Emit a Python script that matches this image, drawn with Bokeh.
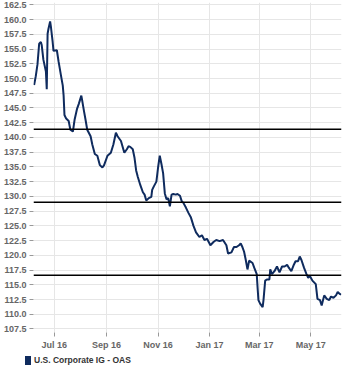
import pandas as pd
from bokeh.plotting import figure
from bokeh.layouts import column
from bokeh.models import (Span, Div, FixedTicker,
                          NumeralTickFormatter, Range1d, ColumnDataSource)
from bokeh.embed import file_html
from bokeh.resources import INLINE

series_name = "U.S. Corporate IG - OAS"

dates = [
    "2016-06-07", "2016-06-09", "2016-06-11", "2016-06-13", "2016-06-15", "2016-06-16",
    "2016-06-18", "2016-06-21", "2016-06-22", "2016-06-23", "2016-06-24", "2016-06-26",
    "2016-06-27", "2016-06-29", "2016-06-30", "2016-07-04", "2016-07-06", "2016-07-09",
    "2016-07-11", "2016-07-12", "2016-07-13", "2016-07-15", "2016-07-18", "2016-07-20",
    "2016-07-23", "2016-07-25", "2016-07-28", "2016-07-30", "2016-08-02", "2016-08-03",
    "2016-08-05", "2016-08-07", "2016-08-09", "2016-08-13", "2016-08-15", "2016-08-18",
    "2016-08-21", "2016-08-24", "2016-08-27", "2016-08-29", "2016-09-02", "2016-09-06",
    "2016-09-09", "2016-09-12", "2016-09-14", "2016-09-18", "2016-09-22", "2016-09-25",
    "2016-09-27", "2016-09-29", "2016-10-02", "2016-10-04", "2016-10-06", "2016-10-08",
    "2016-10-11", "2016-10-14", "2016-10-16", "2016-10-18", "2016-10-21", "2016-10-24",
    "2016-10-25", "2016-10-27", "2016-10-30", "2016-11-01", "2016-11-03", "2016-11-05",
    "2016-11-07", "2016-11-09", "2016-11-11", "2016-11-13", "2016-11-15", "2016-11-17",
    "2016-11-19", "2016-11-22", "2016-11-24", "2016-11-27", "2016-11-29", "2016-12-01",
    "2016-12-04", "2016-12-07", "2016-12-10", "2016-12-13", "2016-12-16", "2016-12-20",
    "2016-12-23", "2016-12-26", "2016-12-29", "2017-01-01", "2017-01-02", "2017-01-06",
    "2017-01-09", "2017-01-13", "2017-01-17", "2017-01-21", "2017-01-23", "2017-01-27",
    "2017-01-30", "2017-02-02", "2017-02-05", "2017-02-07", "2017-02-09", "2017-02-11",
    "2017-02-13", "2017-02-15", "2017-02-17", "2017-02-21", "2017-02-23", "2017-02-26",
    "2017-02-27", "2017-02-28", "2017-03-02", "2017-03-05", "2017-03-06", "2017-03-08",
    "2017-03-10", "2017-03-13", "2017-03-14", "2017-03-16", "2017-03-19", "2017-03-22",
    "2017-03-25", "2017-03-28", "2017-03-31", "2017-04-03", "2017-04-05", "2017-04-08",
    "2017-04-11", "2017-04-13", "2017-04-16", "2017-04-18", "2017-04-20", "2017-04-23",
    "2017-04-26", "2017-04-28", "2017-04-30", "2017-05-03", "2017-05-07", "2017-05-09",
    "2017-05-12", "2017-05-14", "2017-05-17", "2017-05-20", "2017-05-23", "2017-05-25",
    "2017-05-28", "2017-05-31", "2017-06-02", "2017-06-04", "2017-06-06",
]

oas = [
    148.9, 150.4, 152.4, 155.9, 156.2, 155.7,
    153.2, 151.2, 148.2, 157.6, 158.4, 159.7,
    158.7, 156.2, 154.7, 154.8, 152.9, 150.4,
    148.8, 147.1, 143.8, 143.2, 142.8, 141.3,
    141.0, 143.0, 144.9, 145.7, 147.1, 146.3,
    144.6, 143.0, 141.3, 140.2, 138.8, 137.2,
    136.9, 135.3, 134.9, 135.3, 136.9, 137.4,
    138.8, 140.8, 140.2, 139.4, 137.4, 138.0,
    138.5, 138.4, 138.0, 136.6, 134.4, 133.3,
    131.9, 130.7, 130.3, 129.3, 129.7, 129.9,
    131.1, 131.7, 132.5, 134.9, 136.9, 135.5,
    133.9, 130.5, 129.5, 129.7, 128.3, 130.3,
    130.4, 130.3, 130.4, 130.1, 129.2, 128.9,
    128.1, 127.2, 126.4, 125.0, 123.9, 123.1,
    123.4, 122.6, 122.8, 122.0, 121.7, 122.3,
    122.6, 122.4, 122.6, 121.7, 120.3, 120.5,
    121.4, 121.4, 121.7, 122.0, 121.4, 120.6,
    119.2, 117.6, 119.1, 118.7, 117.9, 116.8,
    114.5, 112.4, 111.8, 111.2, 112.4, 115.7,
    115.9, 115.9, 117.6, 116.8, 117.3, 118.1,
    117.1, 118.1, 118.1, 118.4, 117.9, 117.3,
    118.4, 119.0, 119.0, 119.8, 119.2, 117.9,
    116.8, 116.2, 116.5, 115.7, 115.1, 112.6,
    112.4, 111.5, 113.2, 112.6, 112.4, 113.0,
    112.8, 113.2, 113.8, 113.5, 113.3,
]

# mean and +/- one standard deviation reference lines
levels = [141.4, 129.0, 116.6]

x_tick_dates = ["2016-07-01", "2016-09-01", "2016-11-01", "2017-01-01", "2017-03-01", "2017-05-01"]
x_tick_labels = ["Jul 16", "Sep 16", "Nov 16", "Jan 17", "Mar 17", "May 17"]
y_ticks = [107.5, 110.0, 112.5, 115.0, 117.5, 120.0, 122.5, 125.0, 127.5, 130.0, 132.5, 135.0,
           137.5, 140.0, 142.5, 145.0, 147.5, 150.0, 152.5, 155.0, 157.5, 160.0, 162.5]

NAVY = "#0f2b5e"
FONT = "Liberation Sans"

src = ColumnDataSource(dict(date=pd.to_datetime(dates), oas=oas))

p = figure(width=348, height=352, output_backend="svg", toolbar_location=None,
           x_axis_type="datetime",
           x_range=Range1d(pd.Timestamp("2016-06-06 07:00"), pd.Timestamp("2017-06-06 12:00")),
           y_range=Range1d(106.9, 162.9),
           min_border_left=31, min_border_right=7, min_border_top=2, min_border_bottom=18)
p.outline_line_color = None
p.background_fill_color = "white"

p.line("date", "oas", source=src, line_color=NAVY, line_width=2)

for lv in levels:
    p.add_layout(Span(location=lv, dimension="width", line_color="black", line_width=1.5))

tick_ms = [pd.Timestamp(d).value / 1e6 for d in x_tick_dates]
p.xaxis.ticker = FixedTicker(ticks=tick_ms)
p.xaxis.major_label_overrides = {t: lab for t, lab in zip(tick_ms, x_tick_labels)}
p.yaxis.ticker = FixedTicker(ticks=y_ticks)
p.yaxis.formatter = NumeralTickFormatter(format="0.0")

for ax in (p.xaxis[0], p.yaxis[0]):
    ax.axis_line_color = None
    ax.major_tick_line_color = "#999999"
    ax.major_tick_out = 4
    ax.major_tick_in = 0
    ax.minor_tick_line_color = None
    ax.major_label_text_font = FONT
    ax.major_label_text_font_size = "9px"
    ax.major_label_text_font_style = "bold"
    ax.major_label_text_color = "#666666"
p.xaxis.major_label_standoff = 3
p.yaxis.major_label_standoff = 3

p.xgrid.grid_line_color = "#e6e6e6"
p.ygrid.grid_line_color = "#e6e6e6"

# legend strip below the chart: swatch + series name
legend_html = (
    f'<div style="display:flex;align-items:center;height:16px;padding-left:25px;'
    f"font-family:'{FONT}';font-size:8.5px;font-weight:bold;color:#333333;white-space:nowrap;\">"
    f'<span style="display:inline-block;width:6px;height:9px;background:{NAVY};margin-right:3px;"></span>'
    f'{series_name}</div>'
)
lg = Div(text=legend_html, width=348, height=16, margin=0)

layout = column(p, lg, spacing=0)

open("out.html", "w").write(file_html(layout, INLINE))
